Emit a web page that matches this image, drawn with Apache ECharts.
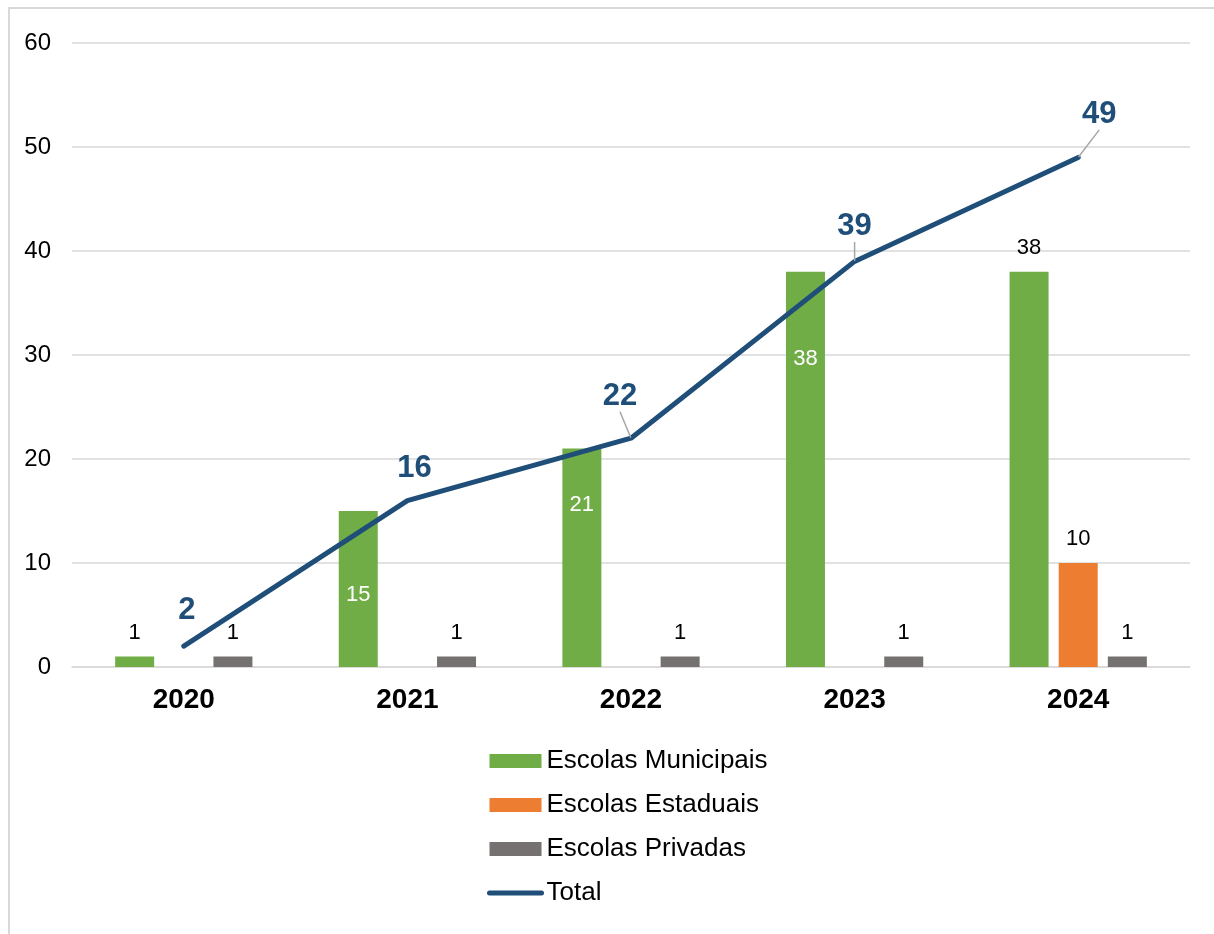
<!DOCTYPE html>
<html>
<head>
<meta charset="utf-8">
<script src="https://cdn.jsdelivr.net/npm/echarts@6/dist/echarts.min.js"></script>
<style>
html,body{margin:0;padding:0;background:#fff;}
#frame{position:absolute;left:8px;top:7px;width:1220px;height:940px;border-left:2px solid #d9d9d9;border-top:2px solid #d9d9d9;}
#c{position:absolute;left:0;top:0;width:1214px;height:934px;}
</style>
</head>
<body>
<div id="frame"></div>
<div id="c"></div>
<script>
var categories = ['2020', '2021', '2022', '2023', '2024'];
var municipais = [1, 15, 21, 38, 38];
var estaduais = [null, null, null, null, 10];
var privadas = [1, 1, 1, 1, 1];
var total = [2, 16, 22, 39, 49];
var yTicks = [0, 10, 20, 30, 40, 50, 60];

// label placement hints (not data)
var munLabelInside = [null, 84, 56, 87, null];
var totalLabelShift = [[3, -36], [7, -32], [-11, -42], [0, -35], [21, -43]];
var totalLeader = [false, false, true, true, true];

var chart = echarts.init(document.getElementById('c'));
var FONT = 'Liberation Sans, Arial, sans-serif';

var munData = municipais.map(function (v, i) {
  if (munLabelInside[i] != null) {
    return {value: v, label: {position: ['50%', munLabelInside[i]], align: 'center', verticalAlign: 'middle', color: '#ffffff'}};
  }
  return {value: v};
});
var totData = total.map(function (v, i) {
  return {value: v, labelLine: {show: totalLeader[i]}};
});

var barLabel = {show: true, position: 'top', distance: 13, fontSize: 22, color: '#000', fontFamily: FONT};

chart.setOption({
  animation: false,
  textStyle: {fontFamily: FONT},
  grid: {left: 72, right: 24, top: 43, bottom: 267},
  legend: {
    orient: 'vertical',
    left: 487,
    top: 748,
    padding: 0,
    itemWidth: 52,
    itemHeight: 14,
    itemGap: 18,
    itemTextGap: 7,
    textStyle: {fontSize: 26, color: '#000', fontFamily: FONT},
    data: [
      {name: 'Escolas Municipais', icon: 'rect'},
      {name: 'Escolas Estaduais', icon: 'rect'},
      {name: 'Escolas Privadas', icon: 'rect'},
      {name: 'Total', itemStyle: {opacity: 0}, lineStyle: {width: 5, cap: 'round', color: '#1F4E79'}}
    ]
  },
  xAxis: {
    type: 'category',
    data: categories,
    axisTick: {show: false},
    axisLine: {lineStyle: {color: '#d9d9d9', width: 1.5}},
    axisLabel: {fontSize: 28, fontWeight: 'bold', color: '#000', margin: 19}
  },
  yAxis: {
    type: 'value',
    min: yTicks[0],
    max: yTicks[yTicks.length - 1],
    interval: 10,
    axisLabel: {fontSize: 24, color: '#000', margin: 21},
    splitLine: {lineStyle: {color: '#d9d9d9', width: 1.5}},
    axisLine: {show: false},
    axisTick: {show: false}
  },
  series: [
    {
      name: 'Escolas Municipais', type: 'bar', data: munData,
      barWidth: 39, barGap: '26%',
      itemStyle: {color: '#70AD47'},
      label: barLabel
    },
    {
      name: 'Escolas Estaduais', type: 'bar', data: estaduais,
      barWidth: 39, barGap: '26%',
      itemStyle: {color: '#ED7D31'},
      label: barLabel
    },
    {
      name: 'Escolas Privadas', type: 'bar', data: privadas,
      barWidth: 39, barGap: '26%',
      itemStyle: {color: '#767171'},
      label: barLabel
    },
    {
      name: 'Total', type: 'line', data: totData, z: 5,
      symbol: 'circle', symbolSize: 1, showSymbol: true,
      itemStyle: {color: '#1F4E79'},
      lineStyle: {color: '#1F4E79', width: 5, cap: 'round'},
      label: {show: true, position: 'inside', align: 'center', verticalAlign: 'middle',
        fontSize: 31, fontWeight: 'bold', color: '#1F4E79', fontFamily: FONT},
      labelLine: {show: true, lineStyle: {color: '#a6a6a6', width: 1.5}},
      labelLayout: function (p) {
        var s = totalLabelShift[p.dataIndex];
        return {dx: s[0], dy: s[1]};
      }
    }
  ]
});
</script>
</body>
</html>
